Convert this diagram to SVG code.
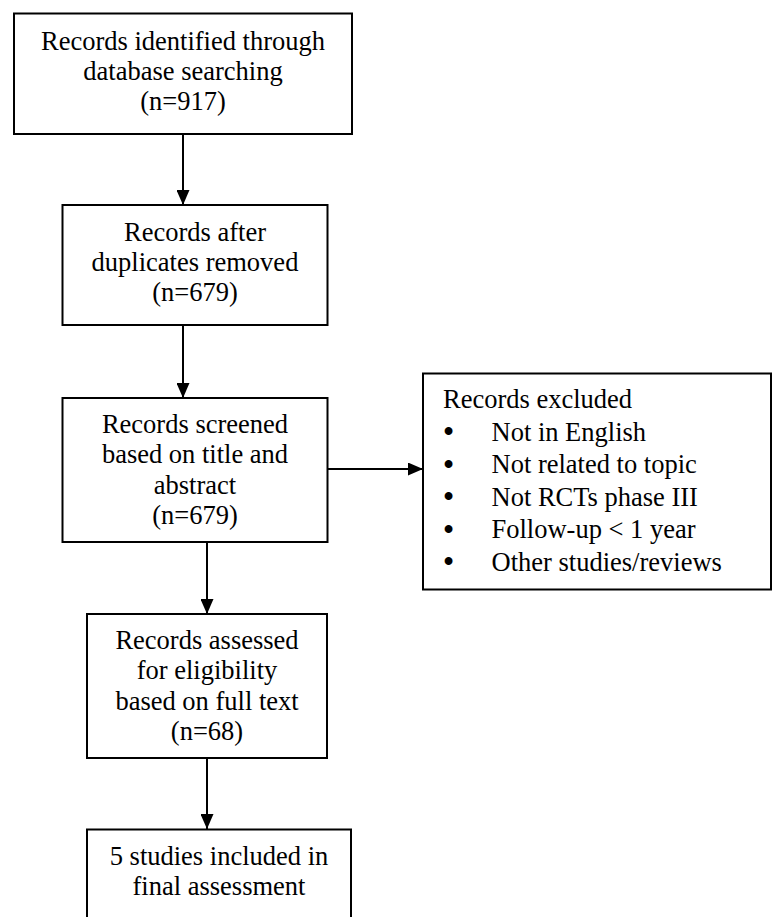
<svg xmlns="http://www.w3.org/2000/svg" width="772" height="917" viewBox="0 0 772 917">
<defs>
<style>
.box{fill:#fff;stroke:#000;stroke-width:2}
.t{font-family:"Liberation Serif","Times New Roman",serif;font-size:26.5px;fill:#000}
.c{text-anchor:middle}
.b{font-family:"Liberation Serif","Times New Roman",serif;font-size:29px;font-weight:bold;fill:#000}
.edge{stroke:#000;stroke-width:2;fill:none;marker-end:url(#arr)}
</style>
<marker id="arr" markerUnits="userSpaceOnUse" markerWidth="15" markerHeight="13" refX="15" refY="6.5" orient="auto">
<path d="M0,0 L15,6.5 L0,13 z" fill="#000"/>
</marker>
</defs>
<rect width="772" height="917" fill="#fff"/>
<g id="connectors">
<line class="edge" x1="183" y1="134" x2="183" y2="205"/>
<line class="edge" x1="183" y1="325" x2="183" y2="398"/>
<line class="edge" x1="327" y1="469" x2="423" y2="469"/>
<line class="edge" x1="207" y1="542" x2="207" y2="614"/>
<line class="edge" x1="207" y1="758" x2="207" y2="829"/>
</g>
<g id="identified">
<rect class="box" x="14" y="13.5" width="338" height="120.5"/>
<text class="t c" x="183" y="49.5">Records identified through</text>
<text class="t c" x="183" y="79.7">database searching</text>
<text class="t c" x="183" y="110">(n=917)</text>
</g>
<g id="duplicates">
<rect class="box" x="62.5" y="205" width="265" height="120"/>
<text class="t c" x="195" y="240.7">Records after</text>
<text class="t c" x="195" y="270.7">duplicates removed</text>
<text class="t c" x="195" y="301">(n=679)</text>
</g>
<g id="screened">
<rect class="box" x="62.5" y="398" width="265" height="144"/>
<text class="t c" x="195" y="433">Records screened</text>
<text class="t c" x="195" y="463">based on title and</text>
<text class="t c" x="195" y="493.5">abstract</text>
<text class="t c" x="195" y="524">(n=679)</text>
</g>
<g id="excluded">
<rect class="box" x="423" y="373.5" width="348" height="216"/>
<text class="t" x="443" y="408">Records excluded</text>
<text class="b" x="443.5" y="441">•</text>
<text class="t" x="491.5" y="440.5">Not in English</text>
<text class="b" x="443.5" y="473.5">•</text>
<text class="t" x="491.5" y="473">Not related to topic</text>
<text class="b" x="443.5" y="506">•</text>
<text class="t" x="491.5" y="505.5">Not RCTs phase III</text>
<text class="b" x="443.5" y="538.5">•</text>
<text class="t" x="491.5" y="538">Follow-up &lt; 1 year</text>
<text class="b" x="443.5" y="571">•</text>
<text class="t" x="491.5" y="570.5">Other studies/reviews</text>
</g>
<g id="assessed">
<rect class="box" x="87" y="614" width="240" height="144"/>
<text class="t c" x="207" y="649.3">Records assessed</text>
<text class="t c" x="207" y="679.3">for eligibility</text>
<text class="t c" x="207" y="710">based on full text</text>
<text class="t c" x="207" y="740">(n=68)</text>
</g>
<g id="included">
<rect class="box" x="87" y="829.5" width="264" height="110"/>
<text class="t c" x="219" y="865">5 studies included in</text>
<text class="t c" x="219" y="895">final assessment</text>
</g>
</svg>
